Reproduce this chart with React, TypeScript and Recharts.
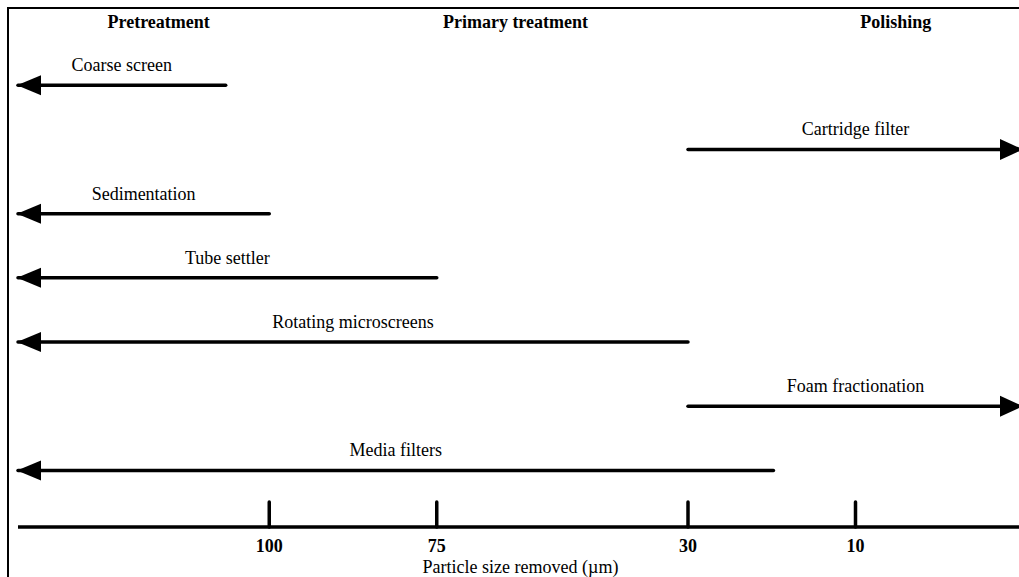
import { ComposedChart, Line, Scatter, XAxis, YAxis } from 'recharts'

const FONT = '"Liberation Serif", "Times New Roman", Times, serif'

// x axis is an ordinal position scale: each tick sits at a slot, labelled with particle size
const sizeTicks = [1.5, 2.5, 4, 5]
const sizeLabels = ['100', '75', '30', '10']

const phaseNames = ['Pretreatment', 'Primary treatment', 'Polishing']
const phaseAt = [0.84, 2.97, 5.24]

const processNames = [
  'Coarse screen',
  'Cartridge filter',
  'Sedimentation',
  'Tube settler',
  'Rotating microscreens',
  'Foam fractionation',
  'Media filters',
]
const processFrom = [0, 4, 0, 0, 0, 4, 0]
const processTo = [1.24, 6, 1.5, 2.5, 4, 6, 4.51]
const processDir = ['left', 'right', 'left', 'left', 'left', 'right', 'left']

const arrows = processNames.map((name, i) => ({
  name,
  data: [
    { x: processFrom[i], y: i + 1, head: processDir[i] === 'left' },
    { x: processTo[i], y: i + 1, head: processDir[i] === 'right' },
  ],
  dir: processDir[i],
}))

const arrowLabels = processNames.map((name, i) => ({
  name,
  x: (processFrom[i] + processTo[i]) / 2,
  y: i + 1,
}))

const phases = phaseNames.map((name, i) => ({ name, x: phaseAt[i], y: 0 }))

function ArrowHead(props: any) {
  const { cx, cy, payload, index } = props
  if (!payload || !payload.head) return <g key={`n-${index}`} />
  const left = index === 0
  const pts = left
    ? `${cx - 1},${cy} ${cx + 23},${cy - 10} ${cx + 23},${cy + 10}`
    : `${cx},${cy} ${cx - 23},${cy - 10.5} ${cx - 23},${cy + 10.5}`
  return <polygon key={`h-${index}`} points={pts} fill="#000" />
}

function SizeTick(props: any) {
  const { x, y, payload } = props
  const label = sizeLabels[sizeTicks.indexOf(payload.value)]
  return (
    <g>
      <line x1={x} x2={x} y1={y} y2={y - 25} stroke="#000" strokeWidth={3.5} strokeLinecap="round" />
      <text x={x} y={y + 25} textAnchor="middle" fontFamily={FONT} fontWeight="bold" fontSize={18} fill="#000">
        {label}
      </text>
    </g>
  )
}

export default function App() {
  return (
    <div style={{ position: 'absolute', left: 0, top: 0, width: 1019, height: 577, overflow: 'hidden', background: '#fff' }}>
      <div
        style={{
          position: 'absolute',
          left: 7,
          top: 7,
          width: 1012,
          height: 570,
          borderTop: '2px solid #000',
          borderLeft: '2px solid #000',
        }}
      />
      <ComposedChart width={1023} height={577} margin={{ top: 21, right: 0, bottom: 0, left: 18 }}>
        <XAxis
          type="number"
          dataKey="x"
          domain={[0, 6]}
          ticks={sizeTicks}
          interval={0}
          height={50}
          tickSize={0}
          tickMargin={0}
          tickLine={false}
          axisLine={{ stroke: '#000', strokeWidth: 3.5 }}
          tick={<SizeTick />}
          label={{
            value: 'Particle size removed (µm)',
            position: 'insideBottom',
            offset: 4,
            fontFamily: FONT,
            fontSize: 18,
            fill: '#000',
          }}
        />
        <YAxis hide type="number" dataKey="y" domain={[0, 7.88]} reversed />
        {arrows.map((a) => (
          <Line
            key={a.name}
            data={a.data}
            dataKey="y"
            type="linear"
            stroke="#000"
            strokeWidth={3.5}
            strokeLinecap="round"
            dot={(p: any) => <ArrowHead {...p} />}
            activeDot={false}
            isAnimationActive={false}
          />
        ))}
        <Scatter
          data={arrowLabels}
          isAnimationActive={false}
          shape={(p: any) => (
            <text x={p.cx} y={p.cy - 14} textAnchor="middle" fontFamily={FONT} fontSize={18} fill="#000">
              {p.payload.name}
            </text>
          )}
        />
        <Scatter
          data={phases}
          isAnimationActive={false}
          shape={(p: any) => (
            <text x={p.cx} y={p.cy + 7} textAnchor="middle" fontFamily={FONT} fontWeight="bold" fontSize={18} fill="#000">
              {p.payload.name}
            </text>
          )}
        />
      </ComposedChart>
    </div>
  )
}
